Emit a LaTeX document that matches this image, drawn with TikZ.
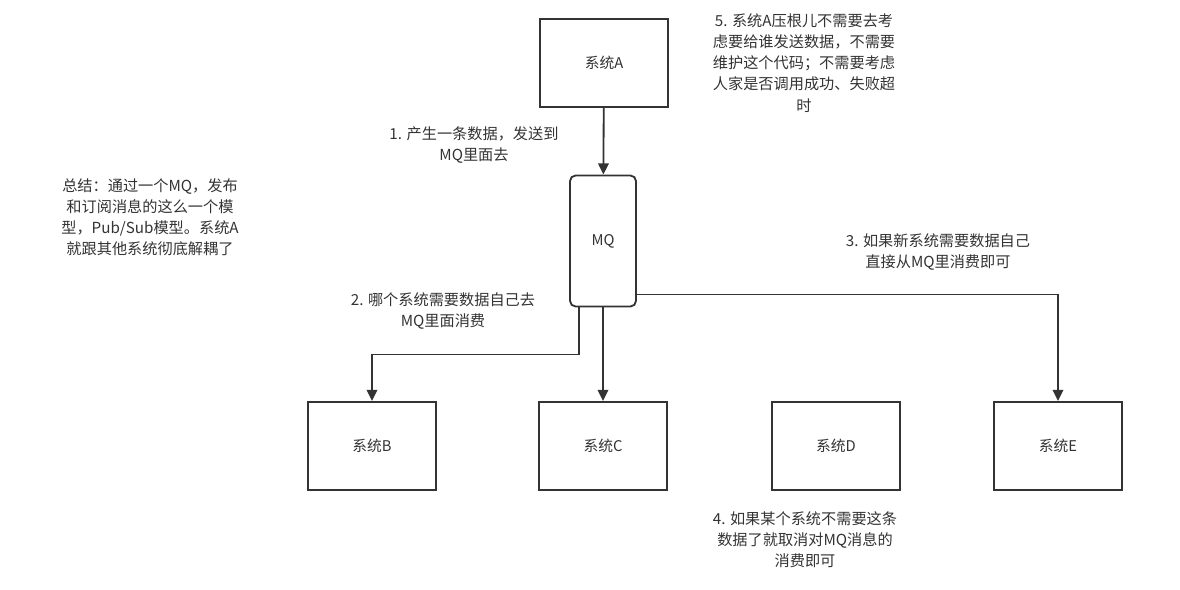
\documentclass[tikz,border=0pt]{standalone}
\usepackage{fontspec}
\setmainfont{Noto Sans CJK SC}
\usetikzlibrary{arrows.meta}
\definecolor{ink}{HTML}{333333}
\begin{document}
\begin{tikzpicture}[
    x=0.025cm, y=-0.025cm,
    system/.style={draw=ink, line width=1.3pt, rectangle, minimum width=3.2cm, minimum height=2.2cm, font=\fontsize{10.5pt}{15pt}\selectfont, text=ink},
    queue/.style={draw=ink, line width=1.3pt, rectangle, rounded corners=4pt, minimum width=1.65cm, minimum height=3.275cm, font=\fontsize{10.5pt}{15pt}\selectfont, text=ink},
    arrow/.style={-{Triangle[width=7.5pt,length=8pt]}, line width=1.3pt, color=ink},
    note/.style={font=\fontsize{10.8pt}{15pt}\selectfont, text=ink, align=center, inner sep=0pt}
]
\useasboundingbox (0,0) rectangle (1180,590);

% --- Producer ---
\node[system] (sysA) at (604, 63) {系统A};
\node[queue] (mq) at (603, 241) {MQ};

% --- Consumers ---
\node[system] (sysB) at (372, 446) {系统B};
\node[system] (sysC) at (603, 446) {系统C};
\node[system] (sysD) at (836, 446) {系统D};
\node[system] (sysE) at (1058, 446) {系统E};

% --- Arrows ---
\draw[arrow] (sysA) -- (mq);
\draw[arrow] ([xshift=0.25cm]mq.south west) -- ++(0,47) -| (sysB.north);
\draw[arrow] (mq.south) -- (sysC.north);
\draw[arrow] ([yshift=0.325cm]mq.south east) -| (sysE.north);

% --- Notes ---
\node[note] (n1) at (474, 145) {1. 产生一条数据，发送到\\MQ里面去};
\node[note] (n2) at (443, 311) {2. 哪个系统需要数据自己去\\MQ里面消费};
\node[note] (n3) at (938, 252) {3. 如果新系统需要数据自己\\直接从MQ里消费即可};
\node[note] (n4) at (805, 540) {4. 如果某个系统不需要这条\\数据了就取消对MQ消息的\\消费即可};
\node[note] (n5) at (804, 63) {5. 系统A压根儿不需要去考\\虑要给谁发送数据，不需要\\维护这个代码；不需要考虑\\人家是否调用成功、失败超\\时};
\node[note] (sum) at (150, 217) {总结：通过一个MQ，发布\\和订阅消息的这么一个模\\型，Pub/Sub模型。系统A\\就跟其他系统彻底解耦了};

\end{tikzpicture}
\end{document}
